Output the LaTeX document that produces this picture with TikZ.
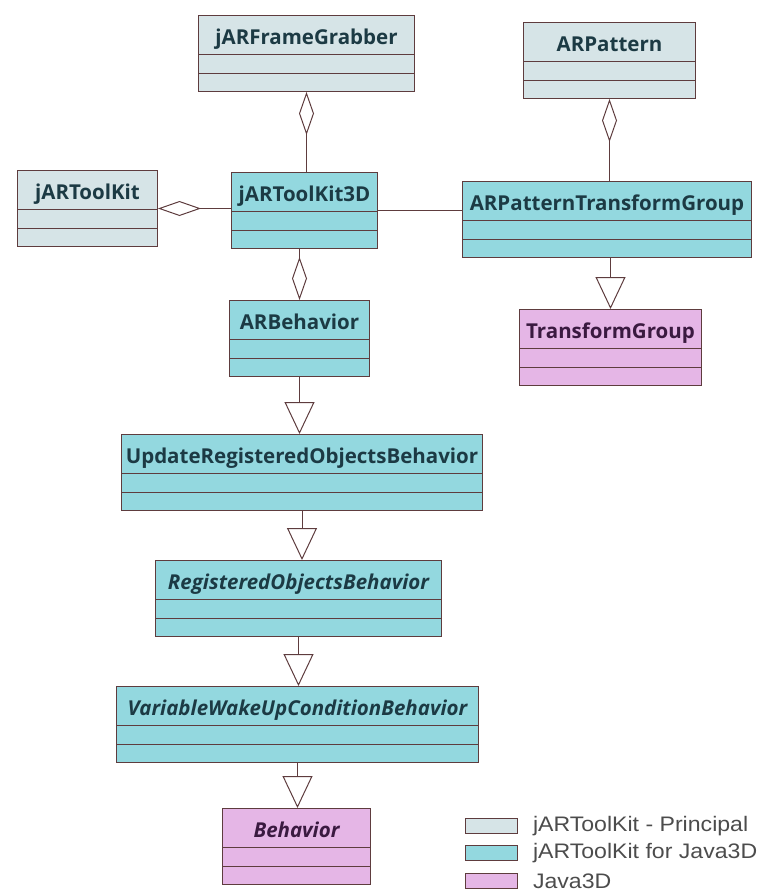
\documentclass[tikz,border=0pt]{standalone}
\usepackage{fontspec}
\setmainfont{Open Sans}
\newfontfamily\legendfont[FakeStretch=1.1]{Liberation Sans}
\usetikzlibrary{shapes.multipart,arrows.meta,positioning}

\definecolor{principal}{HTML}{D6E4E7}
\definecolor{forjava}{HTML}{93D8DF}
\definecolor{javathreed}{HTML}{E5B6E6}
\definecolor{umlline}{HTML}{5E3C3E}
\definecolor{umltext}{HTML}{1C3A44}
\definecolor{pinktext}{HTML}{3A1A40}

% class box: name compartment plus two empty compartments
\newcommand{\classparts}[1]{\rule[-10pt]{0pt}{38pt}#1\nodepart{second}\rule{0pt}{18pt}\nodepart{third}\rule{0pt}{17pt}}

\tikzset{
  umlclass/.style={draw=umlline, line width=1pt, rectangle split, rectangle split parts=3,
    anchor=north west, inner ysep=0pt, inner xsep=2pt,
    font=\fontsize{20.5}{24}\selectfont\bfseries, text=umltext},
  aggr/.style={draw=umlline, line width=1pt, {Diamond[open, length=43pt, width=15pt]}-},
  gen/.style={draw=umlline, line width=1pt, -{Triangle[open, length=32pt, width=30pt]}},
  swatch/.style={draw=umlline, line width=0.8pt, minimum width=52pt, minimum height=15pt,
    inner sep=0pt, anchor=north west},
  legendtext/.style={font=\legendfont\fontsize{21}{22}\selectfont, text=black!70, inner sep=0pt},
}

\begin{document}
\begin{tikzpicture}[x=1pt, y=-1pt]
  \useasboundingbox (0,0) rectangle (758,894);

  % jARToolKit - Principal
  \node[umlclass, fill=principal, minimum width=216pt] (grabber) at (198,15) {\classparts{jARFrameGrabber}};
  \node[umlclass, fill=principal, minimum width=172pt] (pattern) at (523,22) {\classparts{ARPattern}};
  \node[umlclass, fill=principal, minimum width=140pt] (toolkit) at (17,170) {\classparts{jARToolKit}};

  % jARToolKit for Java3D
  \node[umlclass, fill=forjava, minimum width=146pt] (toolkit3d) at (231,172) {\classparts{jARToolKit3D}};
  \node[umlclass, fill=forjava, minimum width=289pt] (transform) at (462,181) {\classparts{ARPatternTransformGroup}};
  \node[umlclass, fill=forjava, minimum width=140pt] (arbehavior) at (229,300) {\classparts{ARBehavior}};
  \node[umlclass, fill=forjava, minimum width=361pt] (update) at (121,434) {\classparts{UpdateRegisteredObjectsBehavior}};
  \node[umlclass, fill=forjava, minimum width=286pt] (registered) at (155,560) {\classparts{\itshape RegisteredObjectsBehavior}};
  \node[umlclass, fill=forjava, minimum width=362pt] (wakeup) at (116,686) {\classparts{\itshape VariableWakeUpConditionBehavior}};

  % Java3D
  \node[umlclass, fill=javathreed, text=pinktext, minimum width=182pt] (tgroup) at (519,309) {\classparts{TransformGroup}};
  \node[umlclass, fill=javathreed, text=pinktext, minimum width=148pt] (behavior) at (222,808) {\classparts{\itshape Behavior}};

  % aggregations
  \draw[aggr] (grabber.south) -- (grabber.south |- toolkit3d.north);
  \draw[aggr] (pattern.south) -- (pattern.south |- transform.north);
  \draw[aggr] (toolkit.east) -- (toolkit.east -| toolkit3d.west);
  \draw[aggr] (arbehavior.north) -- (arbehavior.north |- toolkit3d.south);
  \draw[umlline, line width=1pt] (toolkit3d.east) -- (toolkit3d.east -| transform.west);

  % generalizations
  \draw[gen] (transform.south -| tgroup.north) -- (tgroup.north);
  \draw[gen] (arbehavior.south) -- (arbehavior.south |- update.north);
  \draw[gen] (update.south) -- (update.south |- registered.north);
  \draw[gen] (registered.south) -- (registered.south |- wakeup.north);
  \draw[gen] (wakeup.south) -- (wakeup.south |- behavior.north);

  % legend
  \node[swatch, fill=principal] (keyprincipal) at (465,818) {};
  \node[legendtext, right=15pt of keyprincipal] (labelprincipal) {jARToolKit - Principal};
  \node[swatch, fill=forjava] (keyforjava) at (465,845) {};
  \node[legendtext, right=15pt of keyforjava] (labelforjava) {jARToolKit for Java3D};
  \node[swatch, fill=javathreed] (keyjava) at (465,873) {};
  \node[legendtext, right=15pt of keyjava] (labeljava) {Java3D};
\end{tikzpicture}
\end{document}
